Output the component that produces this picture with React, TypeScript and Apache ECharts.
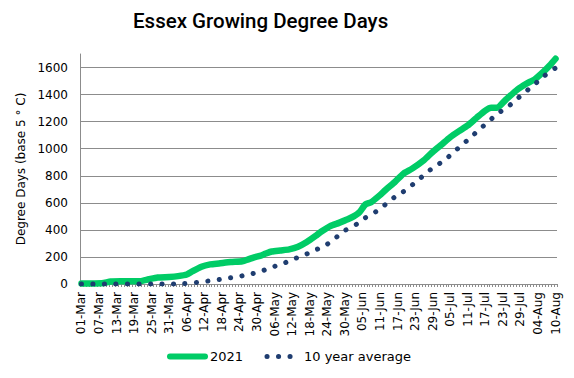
import React, { useEffect, useRef } from "react";
import * as echarts from "echarts";

const MONTHS = ["Mar", "Apr", "May", "Jun", "Jul", "Aug"];
const MONTH_DAYS = [31, 30, 31, 30, 31, 10];
const DATES: string[] = [];
MONTHS.forEach((m, i) => {
  for (let d = 1; d <= MONTH_DAYS[i]; d++) DATES.push(`${String(d).padStart(2, "0")}-${m}`);
});

const Y_TICKS = [0, 200, 400, 600, 800, 1000, 1200, 1400, 1600];

const DATES_2021 = [
  "01-Mar", "08-Mar", "11-Mar", "15-Mar", "21-Mar", "24-Mar", "27-Mar", "31-Mar",
  "03-Apr", "06-Apr", "08-Apr", "11-Apr", "14-Apr", "17-Apr", "21-Apr", "25-Apr",
  "27-Apr", "29-Apr", "01-May", "03-May", "05-May", "08-May", "11-May", "14-May",
  "17-May", "20-May", "22-May", "25-May", "28-May", "31-May", "02-Jun", "04-Jun",
  "06-Jun", "08-Jun", "11-Jun", "13-Jun", "16-Jun", "19-Jun", "22-Jun", "26-Jun",
  "29-Jun", "02-Jul", "05-Jul", "08-Jul", "11-Jul", "14-Jul", "17-Jul", "19-Jul",
  "21-Jul", "24-Jul", "28-Jul", "31-Jul", "03-Aug", "06-Aug", "08-Aug", "10-Aug",
];
const VALUES_2021 = [
  3, 5, 18, 20, 21, 35, 48, 52,
  58, 70, 95, 128, 145, 152, 162, 168,
  182, 197, 208, 225, 240, 248, 256, 275,
  310, 355, 388, 428, 452, 478, 500, 530,
  588, 605, 657, 697, 752, 815, 853, 915,
  976, 1030, 1085, 1130, 1172, 1228, 1282, 1303,
  1303, 1362, 1438, 1480, 1515, 1572, 1615, 1665,
];

// 10 year average
const DATES_AVG = [
  "01-Mar", "03-Apr", "05-Apr", "07-Apr", "11-Apr", "15-Apr", "19-Apr", "23-Apr",
  "27-Apr", "01-May", "05-May", "09-May", "12-May", "16-May", "20-May", "24-May",
  "27-May", "30-May", "03-Jun", "06-Jun", "10-Jun", "13-Jun", "16-Jun", "20-Jun",
  "23-Jun", "26-Jun", "29-Jun", "03-Jul", "06-Jul", "09-Jul", "12-Jul", "15-Jul",
  "18-Jul", "21-Jul", "25-Jul", "28-Jul", "31-Jul", "03-Aug", "06-Aug", "10-Aug",
];
const VALUES_AVG = [
  0, 0, 3, 7, 15, 27, 39, 53,
  69, 91, 123, 152, 180, 213, 251, 295,
  344, 395, 442, 489, 540, 590, 642, 697,
  750, 804, 858, 913, 971, 1027, 1084, 1143,
  1199, 1256, 1315, 1371, 1425, 1479, 1536, 1597,
];

const GREEN = "#00cc66";
const NAVY = "#1f3d70";
const GRID = "#8c8c8c";
const FONT = "DejaVu Sans";

export default function App() {
  const ref = useRef<HTMLDivElement>(null);
  useEffect(() => {
    document.body.style.margin = "0";
    if (!ref.current) return;
    const chart = echarts.init(ref.current, undefined, { renderer: "svg" });
    const dots = [0.1, 11.4];
    chart.setOption({
      animation: false,
      backgroundColor: "#ffffff",
      title: {
        text: "Essex Growing Degree Days",
        left: 133,
        top: 10,
        padding: 0,
        textStyle: { fontFamily: "Roboto", fontWeight: 500, fontSize: 20.5, color: "#000" },
      },
      grid: { left: 80, right: 17, top: 54, bottom: 94, containLabel: false },
      legend: [
        {
          data: ["2021"],
          left: 167,
          top: 350,
          padding: 0,
          itemWidth: 35,
          itemHeight: 14,
          itemStyle: { opacity: 0 },
          lineStyle: { width: 6, cap: "round" },
          textStyle: { fontFamily: FONT, fontSize: 13, color: "#000" },
        },
        {
          data: ["10 year average"],
          left: 264.5,
          top: 350,
          padding: 0,
          itemWidth: 32,
          itemHeight: 14,
          itemStyle: { opacity: 0 },
          lineStyle: { width: 5, type: dots, cap: "round" },
          textStyle: { fontFamily: FONT, fontSize: 13, color: "#000" },
        },
      ],
      xAxis: {
        type: "category",
        data: DATES,
        boundaryGap: true,
        axisLine: { lineStyle: { color: GRID, width: 1 } },
        axisTick: { show: true, interval: 0, length: 3, lineStyle: { color: GRID } },
        axisLabel: {
          interval: 5,
          rotate: 90,
          margin: 8,
          fontFamily: FONT,
          fontSize: 12,
          color: "#000",
        },
        splitLine: { show: false },
      },
      yAxis: {
        type: "value",
        min: 0,
        max: 1700,
        interval: 200,
        name: "Degree Days (base 5 ° C)",
        nameLocation: "middle",
        nameRotate: 90,
        nameGap: 50,
        nameTextStyle: { fontFamily: FONT, fontSize: 12, color: "#000" },
        axisLine: { show: true, lineStyle: { color: GRID, width: 1 } },
        axisTick: { show: false },
        axisLabel: {
          margin: 12,
          fontFamily: FONT,
          fontSize: 12,
          color: "#000",
          formatter: (v: number) => (Y_TICKS.includes(v) ? String(v) : ""),
        },
        splitLine: { show: true, showMaxLine: false, lineStyle: { color: GRID, width: 1 } },
      },
      series: [
        {
          name: "2021",
          type: "line",
          data: DATES_2021.map((d, i) => [d, VALUES_2021[i]]),
          showSymbol: false,
          symbol: "none",
          smooth: 0.2,
          lineStyle: { color: GREEN, width: 6.5, cap: "round", join: "round" },
          itemStyle: { color: GREEN },
        },
        {
          name: "10 year average",
          type: "line",
          data: DATES_AVG.map((d, i) => [d, VALUES_AVG[i]]),
          showSymbol: false,
          symbol: "none",
          smooth: 0.2,
          lineStyle: { color: NAVY, width: 5, type: dots, cap: "round" },
          itemStyle: { color: NAVY },
        },
      ],
    });
    return () => chart.dispose();
  }, []);
  return <div ref={ref} style={{ width: 574, height: 378 }} />;
}
